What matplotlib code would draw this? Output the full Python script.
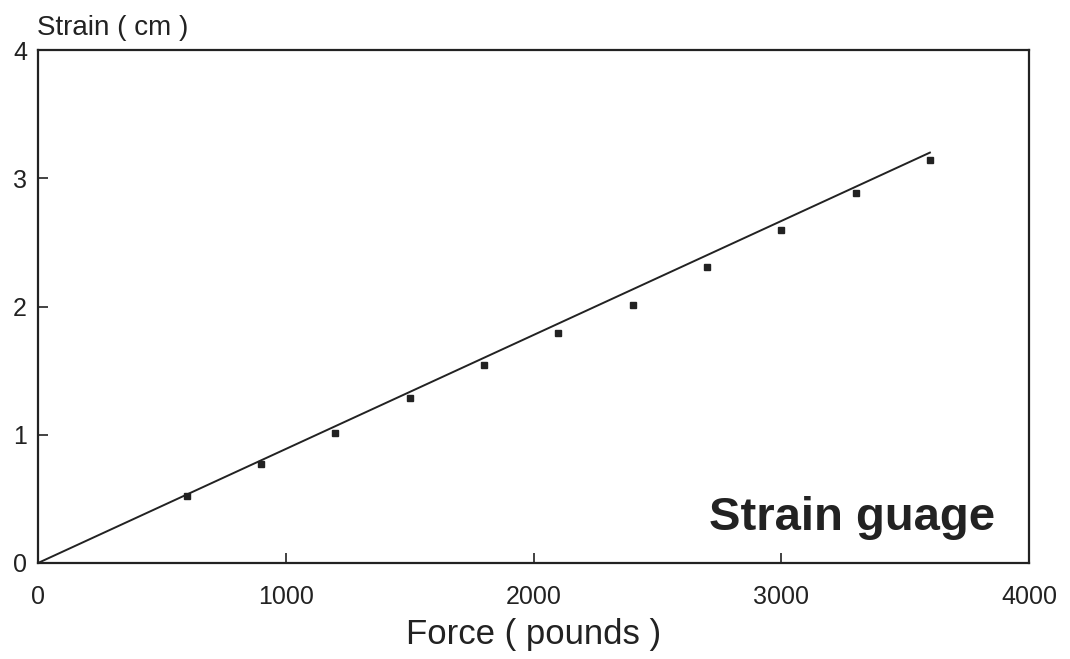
import matplotlib
matplotlib.use("Agg")
import matplotlib.pyplot as plt

force = [600, 900, 1200, 1500, 1800, 2100, 2400, 2700, 3000, 3300, 3600]
strain = [0.52, 0.77, 1.01, 1.29, 1.54, 1.79, 2.01, 2.31, 2.60, 2.885, 3.14]
fit_x = [0, 3600]
fit_y = [0, 3.20]
xticks = [0, 1000, 2000, 3000, 4000]
yticks = [0, 1, 2, 3, 4]

plt.rcParams['font.family'] = ['Liberation Sans', 'DejaVu Sans']

fig = plt.figure(figsize=(10.70, 6.59), dpi=100)
ax = fig.add_axes([38/1070, 1 - 563/659, (1029-38)/1070, (563-50)/659])

ax.plot(fit_x, fit_y, color='#222222', lw=1.4)
ax.plot(force, strain, 's', color='#222222', ms=4)

ax.set_xlim(0, 4000)
ax.set_ylim(0, 4)
ax.set_xticks(xticks)
ax.set_yticks(yticks)
ax.tick_params(direction='in', length=7, width=1.2, colors='#222222',
               labelsize=18, labelcolor='#222222')
ax.tick_params(axis='x', pad=16)
ax.tick_params(axis='y', pad=8)
for s in ax.spines.values():
    s.set_linewidth(1.6)
    s.set_color('#222222')

ax.set_xlabel('Force ( pounds )', fontsize=25, color='#222222', labelpad=6)
fig.text(37/1070, 1 - 28/659, 'Strain ( cm )', fontsize=20, color='#222222',
         ha='left', va='center')
ax.text((995-38)/991, (563-530)/513, 'Strain guage', transform=ax.transAxes,
        fontsize=34, fontweight='bold', color='#222222', ha='right', va='baseline')

fig.savefig('out.png', dpi=100)
